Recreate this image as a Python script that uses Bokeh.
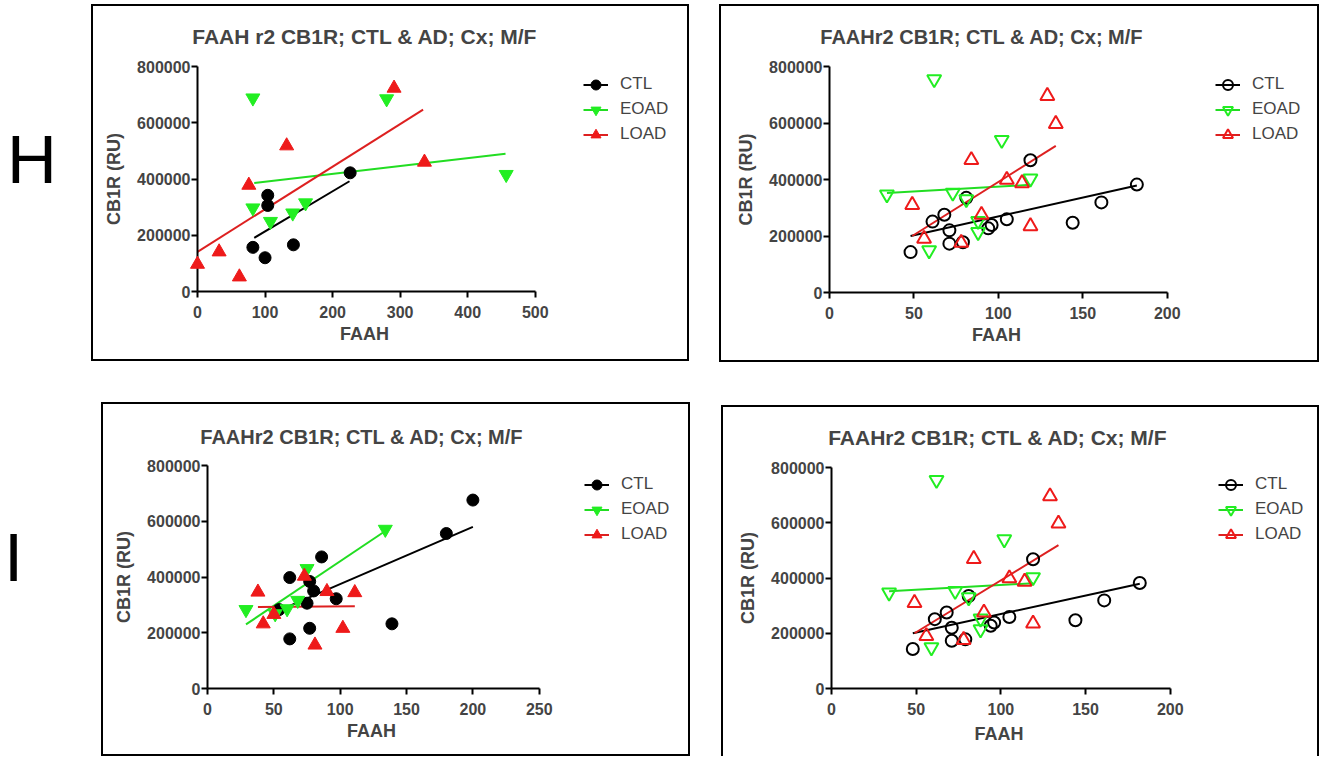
from bokeh.plotting import figure
from bokeh.models import Legend, LegendItem, FixedTicker, NumeralTickFormatter, Div, Spacer, Title
from bokeh.layouts import row, column
from bokeh.embed import file_html
from bokeh.resources import INLINE

FONT = "Liberation Sans"
GROUPS = ["CTL", "EOAD", "LOAD"]
COLORS = {"CTL": "#000000", "EOAD": "#22EE22", "LOAD": "#EE1A1A"}
LINE_COLORS = {"CTL": "#000000", "EOAD": "#22DD22", "LOAD": "#DD2020"}
MARKERS = {"CTL": "circle", "EOAD": "inverted_triangle", "LOAD": "triangle"}

x_label = "FAAH"
y_label = "CB1R (RU)"
y_ticks = [0, 200000, 400000, 600000, 800000]

# ---------------- Panel H, left (filled markers) ----------------
h1_title = "FAAH r2 CB1R; CTL & AD; Cx; M/F"
h1_x_ticks = [0, 100, 200, 300, 400, 500]
h1_ctl_x = [82, 100, 104, 104, 142, 226]
h1_ctl_y = [157000, 120000, 342000, 306000, 166000, 422000]
h1_eoad_x = [82, 82, 108, 141, 160, 280, 457]
h1_eoad_y = [688000, 297000, 249000, 279000, 315000, 685000, 416000]
h1_load_x = [0, 32, 62, 76, 132, 291, 336]
h1_load_y = [97000, 141000, 52000, 378000, 518000, 723000, 460000]
h1_fit_ctl_x = [84, 225]
h1_fit_ctl_y = [191000, 392000]
h1_fit_eoad_x = [84, 456]
h1_fit_eoad_y = [386000, 490000]
h1_fit_load_x = [0, 334]
h1_fit_load_y = [141000, 647000]

# ---------------- Panels H right / I right (open markers) ----------------
r_title = "FAAHr2 CB1R; CTL & AD; Cx; M/F"
r_x_ticks = [0, 50, 100, 150, 200]
r_ctl_x = [48, 61, 68, 71, 71, 79, 81, 94, 96, 105, 119, 144, 161, 182]
r_ctl_y = [143000, 251000, 275000, 220000, 173000, 178000, 335000, 227000, 239000,
           259000, 468000, 247000, 319000, 382000]
r_eoad_x = [34, 59, 62, 73, 81, 88, 88, 102, 119]
r_eoad_y = [347000, 149000, 755000, 353000, 330000, 253000, 214000, 540000, 403000]
r_load_x = [49, 56, 78, 84, 90, 105, 114, 119, 129, 134]
r_load_y = [310000, 190000, 176000, 469000, 275000, 399000, 387000, 235000, 696000, 597000]
r_fit_ctl_x = [48, 182]
r_fit_ctl_y = [200000, 379000]
r_fit_eoad_x = [34, 119]
r_fit_eoad_y = [352000, 381000]
r_fit_load_x = [49, 134]
r_fit_load_y = [200000, 519000]

# ---------------- Panel I, left (filled markers) ----------------
i1_title = "FAAHr2 CB1R; CTL & AD; Cx; M/F"
i1_x_ticks = [0, 50, 100, 150, 200, 250]
i1_ctl_x = [54, 62, 62, 75, 77, 77, 80, 86, 97, 139, 180, 200]
i1_ctl_y = [283000, 398000, 178000, 306000, 384000, 216000, 350000, 472000, 322000,
            232000, 556000, 676000]
i1_eoad_x = [29, 51, 60, 68, 75, 134]
i1_eoad_y = [283000, 268000, 286000, 316000, 430000, 571000]
i1_load_x = [38, 42, 50, 73, 81, 90, 102, 111]
i1_load_y = [346000, 232000, 266000, 403000, 156000, 348000, 216000, 344000]
i1_fit_ctl_x = [54, 200]
i1_fit_ctl_y = [280000, 580000]
i1_fit_eoad_x = [29, 134]
i1_fit_eoad_y = [230000, 565000]
i1_fit_load_x = [38, 111]
i1_fit_load_y = [292000, 295000]


def panel(title, x_ticks, pts, fits, filled, content, frame, leg, border, tstyle, xstand=7):
    # content = (left, top, width, height) of canvas in page px
    # frame = (left, top, right, bottom): where the axes' ends fall, in page px
    cl, ct, cw, ch = content
    fl, ft, fr, fb = frame
    fb -= 3  # measured correction
    mb_top = ft - ct
    px_per_unit = (fr - fl) / (x_ticks[-1] - x_ticks[0])
    x_end = x_ticks[0] + (cl + cw - fl) / px_per_unit   # plot area runs on under the legend
    p = figure(width=cw, height=ch, x_range=(x_ticks[0], x_end),
               y_range=(y_ticks[0], y_ticks[-1]),
               output_backend="svg", toolbar_location=None,
               min_border_left=fl - cl, min_border_right=0,
               min_border_top=mb_top, min_border_bottom=ct + ch - fb,
               styles=border)
    p.outline_line_color = None
    p.xgrid.visible = False
    p.ygrid.visible = False
    p.background_fill_color = "white"
    p.border_fill_color = "white"

    tsize, tcenter, tvalign = tstyle
    est_w = (16.5 if " r2" in title else 16.22) * tsize
    p.title.text = title
    p.title.text_font = FONT
    p.title.text_font_size = "%dpx" % tsize
    p.title.text_font_style = "bold"
    p.title.align = "left"
    p.title.offset = tcenter - est_w / 2 - fl
    p.title.vertical_align = tvalign
    p.title.standoff = mb_top - 26

    for ax, ticks in ((p.xaxis[0], x_ticks), (p.yaxis[0], y_ticks)):
        ax.ticker = FixedTicker(ticks=ticks)
        ax.formatter = NumeralTickFormatter(format="0")
        ax.bounds = (ticks[0], ticks[-1])
        ax.axis_line_width = 2
        ax.major_tick_line_width = 2
        ax.major_tick_out = 6
        ax.major_tick_in = 0
        ax.minor_tick_line_color = None
        ax.major_label_text_font = FONT
        ax.major_label_text_font_size = "16px"
        ax.major_label_text_font_style = "bold"
        ax.axis_label_text_font = FONT
        ax.axis_label_text_font_size = "18px"
        ax.axis_label_text_font_style = "bold"
    p.yaxis.axis_label = y_label
    p.xaxis.major_label_standoff = 8
    p.yaxis.major_label_standoff = 1
    p.yaxis.axis_label_standoff = 10

    # x-axis title, centred under the axis line (not under the whole plot area)
    xl_w = 2.777 * 18
    xt = Title(text=x_label, text_font=FONT, text_font_size="18px", text_font_style="bold",
               align="left", offset=(fr - fl) / 2 - xl_w / 2, vertical_align="top",
               standoff=xstand)
    p.add_layout(xt, "below")

    items = []
    for g in GROUPS:
        xs, ys = pts[g]
        fx, fy = fits[g]
        lr = p.line(fx, fy, line_color=LINE_COLORS[g], line_width=2)
        size = 12 if g == "CTL" else 14
        if filled:
            sr = p.scatter(xs, ys, marker=MARKERS[g], size=size,
                           fill_color=COLORS[g], line_color=COLORS[g], line_width=1,
                           level="overlay")
        else:
            sr = p.scatter(xs, ys, marker=MARKERS[g], size=size,
                           fill_alpha=0, line_color=COLORS[g], line_width=2,
                           level="overlay")
        items.append(LegendItem(label=g, renderers=[lr, sr]))

    gl, gy0, pitch = leg
    n = len(items)
    leg_top = gy0 - pitch / 2
    leg_bottom = leg_top + n * pitch
    legend = Legend(items=items, location=(gl - fl, fb + 3 - leg_bottom),
                    glyph_width=25, glyph_height=pitch, label_height=pitch,
                    spacing=0, padding=0, margin=0, label_standoff=12,
                    border_line_color=None, background_fill_alpha=0,
                    label_text_font=FONT, label_text_font_size="17px")
    p.add_layout(legend)
    return p


def full_border():
    return {"border": "2px solid #000", "box-sizing": "content-box"}


def letter(ch, w, h, shift):
    html = ('<div style="font-family:\'Liberation Sans\',Arial,sans-serif;font-size:69px;'
            'line-height:69px;padding-top:121px;position:relative;left:%dpx;color:#000">%s</div>'
            % (shift, ch))
    return Div(text=html, width=w, height=h, margin=0)


h1 = panel(h1_title, h1_x_ticks,
           {"CTL": (h1_ctl_x, h1_ctl_y), "EOAD": (h1_eoad_x, h1_eoad_y), "LOAD": (h1_load_x, h1_load_y)},
           {"CTL": (h1_fit_ctl_x, h1_fit_ctl_y), "EOAD": (h1_fit_eoad_x, h1_fit_eoad_y),
            "LOAD": (h1_fit_load_x, h1_fit_load_y)},
           True, (93, 7, 594, 353), (197, 66, 532, 291), (583, 84, 25), full_border(),
           (21, 365, "top"))

h2 = panel(r_title, r_x_ticks,
           {"CTL": (r_ctl_x, r_ctl_y), "EOAD": (r_eoad_x, r_eoad_y), "LOAD": (r_load_x, r_load_y)},
           {"CTL": (r_fit_ctl_x, r_fit_ctl_y), "EOAD": (r_fit_eoad_x, r_fit_eoad_y),
            "LOAD": (r_fit_load_x, r_fit_load_y)},
           False, (721, 7, 596, 354), (829, 67, 1164, 292), (1215, 84, 25), full_border(),
           (20, 982, "top"))

i1 = panel(i1_title, i1_x_ticks,
           {"CTL": (i1_ctl_x, i1_ctl_y), "EOAD": (i1_eoad_x, i1_eoad_y), "LOAD": (i1_load_x, i1_load_y)},
           {"CTL": (i1_fit_ctl_x, i1_fit_ctl_y), "EOAD": (i1_fit_eoad_x, i1_fit_eoad_y),
            "LOAD": (i1_fit_load_x, i1_fit_load_y)},
           True, (103, 405, 585, 350), (207, 466, 536, 688), (584, 484, 25), full_border(),
           (20, 362, "bottom"))

i2 = panel(r_title, r_x_ticks,
           {"CTL": (r_ctl_x, r_ctl_y), "EOAD": (r_eoad_x, r_eoad_y), "LOAD": (r_load_x, r_load_y)},
           {"CTL": (r_fit_ctl_x, r_fit_ctl_y), "EOAD": (r_fit_eoad_x, r_fit_eoad_y),
            "LOAD": (r_fit_load_x, r_fit_load_y)},
           False, (723, 408, 594, 349), (831, 468, 1167, 690), (1218, 486, 25),
           {"border-top": "2px solid #000", "border-left": "2px solid #000",
            "border-right": "2px solid #000", "box-sizing": "content-box"},
           (21, 998, "top"), xstand=12)

row1 = row(letter("H", 91, 358, 7), h1, Spacer(width=30, height=10), h2)
row2 = row(letter("I", 101, 354, 4), i1, Spacer(width=31, height=10),
           column(Spacer(width=10, height=3), i2))
layout = column(Spacer(width=10, height=4), row1, Spacer(width=10, height=40), row2)

open("out.html", "w").write(file_html(layout, INLINE))
